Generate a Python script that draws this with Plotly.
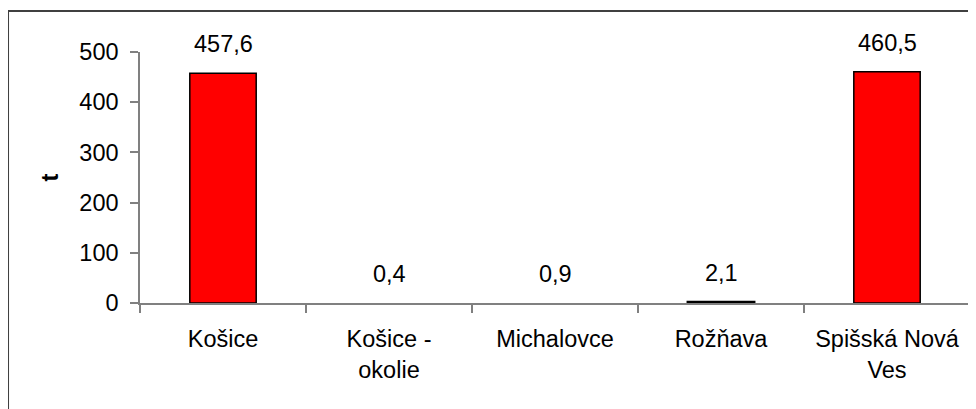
import plotly.graph_objects as go

# Data
districts = ["Košice", "Košice -<br>okolie", "Michalovce", "Rožňava", "Spišská Nová<br>Ves"]
values = [457.6, 0.4, 0.9, 2.1, 460.5]
value_labels = ["457,6", "0,4", "0,9", "2,1", "460,5"]
y_ticks = [0, 100, 200, 300, 400, 500]

FONT = "Liberation Sans, Arial, sans-serif"
FS = 23.5

fig = go.Figure()
fig.add_trace(go.Bar(
    x=districts,
    y=values,
    width=0.4,
    marker=dict(color="#FF0000",
                opacity=[1, 0, 0, 1, 1],   # the sub-pixel bars are not visible in the original
                line=dict(color="black", width=[1.5, 0, 0, 2.5, 1.5])),
    hoverinfo="x+y",
))

# value labels above the bars
for d, v, lab in zip(districts, values, value_labels):
    fig.add_annotation(x=d, y=v, text=lab, showarrow=False,
                       yanchor="bottom", yshift=14,
                       font=dict(family=FONT, size=FS, color="black"))

# outer chart border
fig.add_shape(type="rect", xref="paper", yref="paper",
              x0=-0.159, x1=1.03, y0=-0.45, y1=1.163,
              line=dict(color="#404040", width=2))

fig.update_layout(
    width=976, height=409,
    margin=dict(l=132, r=14, t=44, b=114),
    paper_bgcolor="white", plot_bgcolor="white",
    font=dict(family=FONT, size=FS, color="black"),
    showlegend=False,
)
fig.update_xaxes(
    type="category",
    showline=True, linecolor="#808080", linewidth=1.5,
    ticks="outside", tickson="boundaries", ticklen=8, tickcolor="#808080", tickwidth=1.5,
    showgrid=False, zeroline=False,
    tickfont=dict(size=FS),
    ticklabelstandoff=14,
)
fig.update_yaxes(
    range=[0, 500], tickvals=y_ticks,
    showline=True, linecolor="#808080", linewidth=1.5,
    ticks="outside", ticklen=8, tickcolor="#808080", tickwidth=1.5,
    showgrid=False, zeroline=False,
    tickfont=dict(size=FS),
    ticklabelstandoff=7,
    title=dict(text="<b>t</b>", font=dict(size=FS), standoff=14),
)

fig.write_html("out.html")
